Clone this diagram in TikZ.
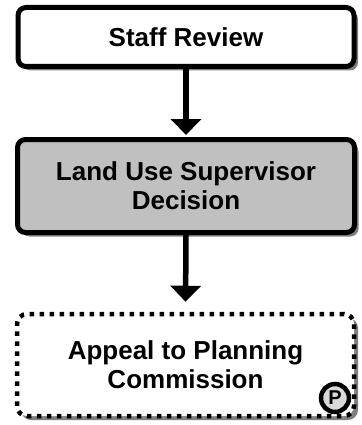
\documentclass[tikz,border=0pt]{standalone}
\usepackage{fontspec}
\setmainfont{Liberation Sans}
\usetikzlibrary{arrows.meta,shadows}
\definecolor{shadowgray}{RGB}{128,128,128}
\definecolor{boxgray}{RGB}{192,192,192}
\definecolor{circgray}{RGB}{217,217,217}
\begin{document}
\begin{tikzpicture}[x=1pt,y=-1pt,
  boxshadow/.style={drop shadow={shadow xshift=4pt,shadow yshift=-4pt,fill=shadowgray,opacity=1}},
  stepbox/.style={draw=black,line width=5pt,rounded corners=8pt,align=center,
    font=\bfseries\fontsize{26}{29}\selectfont,inner sep=0pt,boxshadow},
  dotbox/.style={stepbox,line width=4.5pt,dash pattern=on 4.5pt off 5.5pt,rounded corners=10pt},
  flowarrow/.style={line width=5.5pt,-{Triangle[width=30pt,length=16pt]}},
  pbadge/.style={circle,draw=black,line width=4.5pt,fill=circgray,minimum size=28pt,inner sep=0pt,
    font=\bfseries\fontsize{20}{20}\selectfont}
]
\useasboundingbox (0,0) rectangle (361,425);
\node[stepbox,fill=white,minimum width=336pt,minimum height=59pt] (staff) at (186,37) {Staff Review};
\node[stepbox,fill=boxgray,minimum width=337pt,minimum height=93pt] (lus) at (186,186) {Land Use Supervisor\\Decision};
\node[dotbox,fill=white,minimum width=337pt,minimum height=102pt] (appeal) at (185.5,365) {Appeal to Planning\\Commission};
\node[pbadge] (p) at (335,398) {P};
\draw[flowarrow,shorten >=2pt] (staff.south) -- (lus.north);
\draw[flowarrow,shorten >=10pt] (lus.south) -- (appeal.north);
\end{tikzpicture}
\end{document}
